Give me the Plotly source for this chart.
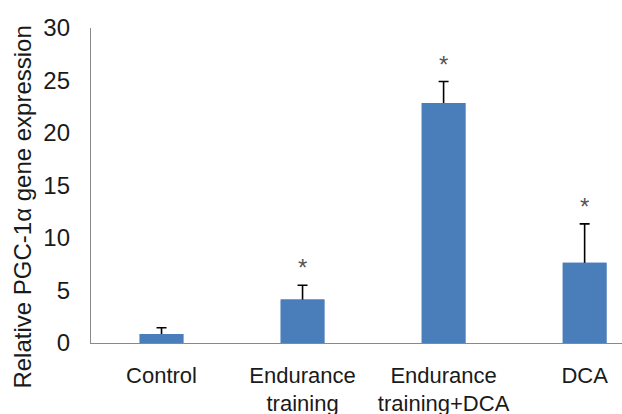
import plotly.graph_objects as go

categories = ["Control", "Endurance<br>training", "Endurance<br>training+DCA", "DCA"]
values = [0.85, 4.15, 22.85, 7.65]
errors = [0.6, 1.35, 2.05, 3.7]
significance = ["", "*", "*", "*"]
y_ticks = [0, 5, 10, 15, 20, 25, 30]

BLUE = "#4a7ebb"
AXIS = "#898989"
TEXT = "#1a1a1a"
FONT = "Arial, Liberation Sans, sans-serif"

fig = go.Figure()
# bar carrying the (upper) error bars; its lower part is hidden under the cover bar
fig.add_trace(go.Bar(
    x=categories, y=values, marker=dict(color=BLUE, line=dict(width=0)),
    width=0.31,
    error_y=dict(type="data", symmetric=False, array=errors, arrayminus=values,
                 color="black", thickness=1.6, width=5),
    showlegend=False, cliponaxis=True,
))
# cover bar so only the upper error bar is visible
fig.add_trace(go.Bar(
    x=categories, y=values, marker=dict(color=BLUE, line=dict(width=0)),
    width=0.31, showlegend=False,
))

for c, v, e, s in zip(categories, values, errors, significance):
    if s:
        fig.add_annotation(x=c, y=v + e, xref="x", yref="y", text=s, showarrow=False,
                           yanchor="bottom", yshift=2,
                           font=dict(family=FONT, size=24, color="#555555"))

fig.add_annotation(x=-0.128, y=0.43, xref="paper", yref="paper",
                   text="Relative PGC-1α gene expression", textangle=-90,
                   showarrow=False, xanchor="center", yanchor="middle",
                   font=dict(family=FONT, size=24, color=TEXT))

fig.update_layout(
    width=622, height=414,
    margin=dict(l=91, r=0, t=28, b=71, autoexpand=False),
    paper_bgcolor="white", plot_bgcolor="white",
    barmode="overlay",
    font=dict(family=FONT, size=22, color=TEXT),
    xaxis=dict(type="category", range=[-0.5, 3.265], showline=True, linecolor=AXIS,
               linewidth=1.3, ticks="", showgrid=False, zeroline=False, automargin=False,
               ticklabelstandoff=12, tickfont=dict(family=FONT, size=22, color=TEXT)),
    yaxis=dict(range=[0, 30], tickvals=y_ticks, showline=True, linecolor=AXIS,
               linewidth=1.3, ticks="", showgrid=False, zeroline=False, automargin=False,
               ticklabelstandoff=15, tickfont=dict(family=FONT, size=24, color=TEXT)),
)

fig.write_html("out.html", config={"displayModeBar": False},
               post_script="document.body.style.margin='0';")
